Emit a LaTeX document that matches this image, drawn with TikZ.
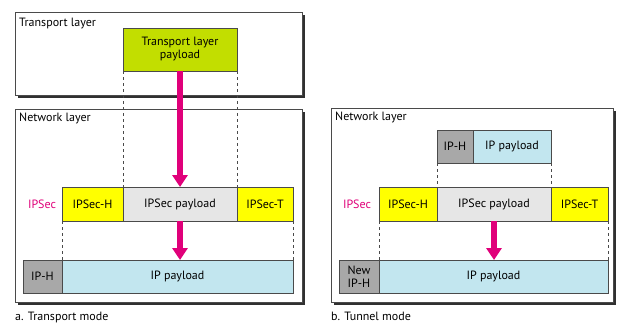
\documentclass[tikz,border=0pt]{standalone}
\usepackage{fontspec}
\setmainfont{PT Sans}
\usetikzlibrary{arrows.meta}
\definecolor{lime}{HTML}{C2DE00}
\definecolor{ylw}{HTML}{FFFF00}
\definecolor{lgray}{HTML}{E6E6E6}
\definecolor{mgray}{HTML}{A8A8A8}
\definecolor{lblue}{HTML}{C2E6EF}
\definecolor{mag}{HTML}{E0007A}
\definecolor{shad}{HTML}{303030}
\definecolor{bord}{HTML}{4A4A4A}
\tikzset{
  layer/.style={draw=bord, line width=0.7pt, fill=white},
  shadowbox/.style={fill=shad, draw=none},
  field/.style={draw=bord, line width=0.6pt, anchor=north west, inner sep=0pt, outer sep=0pt, align=center, font=\fontsize{12}{13}\selectfont},
  lbl/.style={anchor=base west, inner sep=0pt, font=\fontsize{12}{13}\selectfont},
  captext/.style={anchor=base west, inner sep=0pt, font=\fontsize{12}{13}\selectfont},
  ipseclbl/.style={anchor=center, text=mag, inner sep=0pt, font=\fontsize{12}{13}\selectfont},
  guide/.style={draw=bord, line width=0.6pt, dash pattern=on 3pt off 3pt},
  bigarrow/.style={draw=mag, line width=6pt, -{Triangle[width=15pt,length=12pt]}},
}
\begin{document}
\begin{tikzpicture}[x=1pt,y=-1pt]
\useasboundingbox (0,0) rectangle (618,324);
% ---------- panel a ----------
\fill[shadowbox] (17.5,14.5) rectangle (304.5,97.5);
\draw[layer] (15,12) rectangle (302,95);
\node[lbl] (tl) at (19,26.5) {Transport layer};
\fill[shadowbox] (17.5,111.5) rectangle (304.5,304.5);
\draw[layer] (15,109) rectangle (302,302);
\node[lbl] (nla) at (19,121.5) {Network layer};

\node[field, fill=lime, minimum width=114pt, minimum height=43pt] (tp) at (123,28) {Transport layer\\payload};

\node[field, fill=ylw, minimum width=61pt, minimum height=34pt] (ah) at (62,187) {IPSec-H};
\node[field, fill=lgray, minimum width=114pt, minimum height=34pt] (ap) at (123,187) {IPSec payload};
\node[field, fill=ylw, minimum width=56pt, minimum height=34pt] (at) at (237,187) {IPSec-T};
\node[ipseclbl] (aipsec) at (42,204) {IPSec};

\node[field, fill=mgray, minimum width=39pt, minimum height=33pt] (aiph) at (23,260) {IP-H};
\node[field, fill=lblue, minimum width=231pt, minimum height=33pt] (aipp) at (62,260) {IP payload};

\draw[guide] (tp.south west) -- (ap.north west);
\draw[guide] (tp.south east) -- (ap.north east);
\draw[guide] (ah.south west) -- (aipp.north west);
\draw[guide] (at.south east) -- (aipp.north east);

\draw[bigarrow] (tp.south) -- (ap.north);
\draw[bigarrow] (ap.south) -- (ap.south |- aipp.north);

\node[captext] (capa) at (15,320) {a. Transport mode};

% ---------- panel b ----------
\fill[shadowbox] (333.5,110.5) rectangle (615.5,304.5);
\draw[layer] (331,108) rectangle (613,302);
\node[lbl] (nlb) at (335,120.5) {Network layer};

\node[field, fill=mgray, minimum width=36pt, minimum height=33pt] (biph) at (437,130) {IP-H};
\node[field, fill=lblue, minimum width=78pt, minimum height=33pt] (bipp) at (473,130) {IP payload};

\node[field, fill=ylw, minimum width=58pt, minimum height=34pt] (bh) at (379,187) {IPSec-H};
\node[field, fill=lgray, minimum width=114pt, minimum height=34pt] (bp) at (437,187) {IPSec payload};
\node[field, fill=ylw, minimum width=57pt, minimum height=34pt] (bt) at (551,187) {IPSec-T};
\node[ipseclbl] (bipsec) at (357,204) {IPSec};

\node[field, fill=mgray, minimum width=40pt, minimum height=33pt] (bniph) at (339,260) {New\\IP-H};
\node[field, fill=lblue, minimum width=229pt, minimum height=33pt] (bnipp) at (379,260) {IP payload};

\draw[guide] (biph.south west) -- (bp.north west);
\draw[guide] (bipp.south east) -- (bp.north east);
\draw[guide] (bh.south west) -- (bnipp.north west);
\draw[guide] (bt.south east) -- (bnipp.north east);

\draw[bigarrow] (bp.south) -- (bp.south |- bnipp.north);

\node[captext] (capb) at (331,320) {b. Tunnel mode};
\end{tikzpicture}
\end{document}
